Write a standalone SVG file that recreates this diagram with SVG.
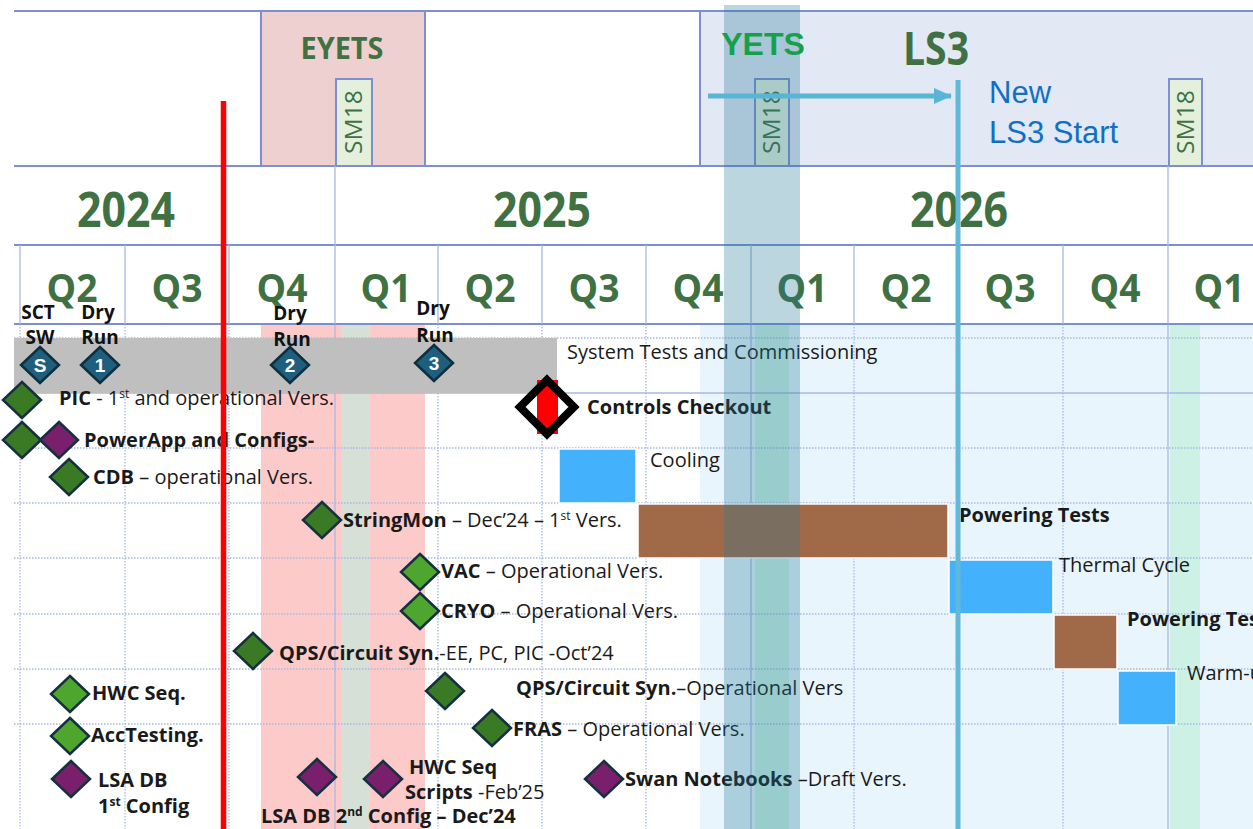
<svg xmlns="http://www.w3.org/2000/svg" width="1253" height="829" viewBox="0 0 1253 829">
  <defs>
    <style>
      .hdr { font-family: "Open Sans", "Liberation Sans", sans-serif; font-weight: 700; fill: #3f7142; text-anchor: middle; }
      .yr { font-size: 48px; }
      .qt { font-size: 40px; }
      .sm { font-family: "Open Sans", "Liberation Sans", sans-serif; font-size: 24px; fill: #3f7142; text-anchor: middle; }
      .lbl { font-family: "Open Sans", "Liberation Sans", sans-serif; font-size: 20px; fill: #1a1a1a; }
      .b { font-weight: 700; }
      .tag { font-family: "Open Sans", "Liberation Sans", sans-serif; font-size: 19px; font-weight: 700; fill: #111; text-anchor: middle; }
      .num { font-family: "Liberation Sans", sans-serif; font-size: 19px; font-weight: 700; fill: #fff; text-anchor: middle; }
      .sup { font-size: 12px; }
      .solid { stroke: #7b8fd2; stroke-width: 2; fill: none; }
      .thin { stroke: #a9b8e2; stroke-width: 1.3; fill: none; }
      .dot { stroke: #a9b8e2; stroke-width: 1.3; stroke-dasharray: 1.5 1.5; fill: none; }
      .dm { stroke: #15303e; stroke-width: 2.5; }
      .dkg { fill: #3a7a24; }
      .ltg { fill: #4fa62f; }
      .pur { fill: #7a1f6c; }
      .stp { fill: #1e5f80; stroke: #0f2f3e; stroke-width: 2.5; }
      .bluebar { fill: #44b1fd; stroke: #fff; stroke-width: 1.5; }
      .brownbar { fill: #a06a48; stroke: #fff; stroke-width: 1.5; }
      .note { font-family: "Liberation Sans", Arial, sans-serif; font-size: 31px; fill: #1170c4; }
    </style>
    <path id="dm" d="M0,-18 L19,0 L0,18 L-19,0 Z"/>
    <marker id="ah" viewBox="0 0 18 16" refX="17" refY="8" markerWidth="18" markerHeight="16" markerUnits="userSpaceOnUse" orient="auto">
      <path d="M0,0 L18,8 L0,16 Z" fill="#5ab4d6"/>
    </marker>
  </defs>

  <rect x="0" y="0" width="1253" height="829" fill="#ffffff"/>

  <!-- period boxes in the top band -->
  <g id="eyets-box">
    <rect x="261" y="11" width="164" height="155" fill="#efd0d1" stroke="#7b8fd2" stroke-width="2"/>
  </g>
  <g id="ls3-box">
    <rect x="700" y="11" width="560" height="155" fill="#e2e8f4" stroke="#7b8fd2" stroke-width="2"/>
  </g>
  <g id="sm18-a">
    <rect x="336" y="79" width="36" height="87" fill="#e5f0dc" stroke="#7b8fd2" stroke-width="2"/>
    <text class="sm" transform="translate(362,122) rotate(-90)" textLength="64" lengthAdjust="spacingAndGlyphs">SM18</text>
  </g>
  <g id="sm18-b">
    <rect x="755" y="79" width="34" height="87" fill="#e5f0dc" stroke="#7b8fd2" stroke-width="2"/>
    <text class="sm" transform="translate(780,122) rotate(-90)" textLength="64" lengthAdjust="spacingAndGlyphs">SM18</text>
  </g>
  <g id="sm18-c">
    <rect x="1169" y="79" width="33" height="87" fill="#e5f0dc" stroke="#7b8fd2" stroke-width="2"/>
    <text class="sm" transform="translate(1194,122) rotate(-90)" textLength="64" lengthAdjust="spacingAndGlyphs">SM18</text>
  </g>

  <!-- shaded periods behind the schedule grid -->
  <rect x="261" y="324" width="164" height="505" fill="#fdcaca"/>
  <rect x="341" y="324" width="29" height="505" fill="#d6e0d6"/>
  <rect x="700" y="324" width="553" height="505" fill="#e9f5fd"/>
  <rect x="755" y="324" width="34" height="505" fill="#cdf1e4"/>
  <rect x="1170" y="324" width="30" height="505" fill="#cdf2e5"/>

  <!-- schedule grid -->
  <g id="grid">
    <path class="dot" d="M14,338H1253 M14,448H1253 M14,503H1253 M14,558H1253 M14,614H1253 M14,669H1253 M14,724H1253"/>
    <path class="thin" d="M14,393H1253"/>
    <path class="dot" d="M20,324V829 M125,324V829 M229,324V829 M438,324V829 M542,324V829 M646,324V829 M854,324V829 M958,324V829 M1063,324V829"/>
    <path class="thin" d="M335,324V829 M751,324V829 M1168,324V829"/>
  </g>

  <!-- calendar header -->
  <g id="header">
    <path class="solid" d="M14,11H1253 M14,166H1253 M14,245H1253 M14,324H1253"/>
    <path class="thin" d="M335,166V245 M1168,166V245"/>
    <path class="thin" d="M20,245V324 M125,245V324 M229,245V324 M335,245V324 M438,245V324 M542,245V324 M646,245V324 M751,245V324 M854,245V324 M958,245V324 M1063,245V324 M1168,245V324"/>
    <text class="hdr" x="342" y="59" font-size="31" textLength="83" lengthAdjust="spacingAndGlyphs">EYETS</text>
    <text class="hdr" x="936" y="65" font-size="46" textLength="66" lengthAdjust="spacingAndGlyphs">LS3</text>
    <text class="hdr yr" x="126" y="227" textLength="98" lengthAdjust="spacingAndGlyphs">2024</text>
    <text class="hdr yr" x="542" y="227" textLength="98" lengthAdjust="spacingAndGlyphs">2025</text>
    <text class="hdr yr" x="959" y="227" textLength="98" lengthAdjust="spacingAndGlyphs">2026</text>
    <g class="hdr qt">
      <text x="72" y="302" textLength="51" lengthAdjust="spacingAndGlyphs">Q2</text>
      <text x="177" y="302" textLength="51" lengthAdjust="spacingAndGlyphs">Q3</text>
      <text x="282" y="302" textLength="51" lengthAdjust="spacingAndGlyphs">Q4</text>
      <text x="386" y="302" textLength="51" lengthAdjust="spacingAndGlyphs">Q1</text>
      <text x="490" y="302" textLength="51" lengthAdjust="spacingAndGlyphs">Q2</text>
      <text x="594" y="302" textLength="51" lengthAdjust="spacingAndGlyphs">Q3</text>
      <text x="698" y="302" textLength="51" lengthAdjust="spacingAndGlyphs">Q4</text>
      <text x="802" y="302" textLength="51" lengthAdjust="spacingAndGlyphs">Q1</text>
      <text x="906" y="302" textLength="51" lengthAdjust="spacingAndGlyphs">Q2</text>
      <text x="1010" y="302" textLength="51" lengthAdjust="spacingAndGlyphs">Q3</text>
      <text x="1115" y="302" textLength="51" lengthAdjust="spacingAndGlyphs">Q4</text>
      <text x="1219" y="302" textLength="51" lengthAdjust="spacingAndGlyphs">Q1</text>
    </g>
  </g>

  <!-- system tests bar with run milestones -->
  <g id="system-tests">
    <rect x="14" y="338" width="543" height="55" fill="#bfbfbf"/>
    <text class="lbl" x="567" y="359">System Tests and Commissioning</text>
  </g>
  <g id="sct-sw">
    <text class="tag" x="38" y="319">SCT</text>
    <text class="tag" x="40" y="344">SW</text>
    <use href="#dm" class="stp" x="40" y="365"/>
    <text class="num" x="40" y="372">S</text>
  </g>
  <g id="dry-run-1">
    <text class="tag" x="98" y="319">Dry</text>
    <text class="tag" x="100" y="344">Run</text>
    <use href="#dm" class="stp" x="100" y="365"/>
    <text class="num" x="100" y="372">1</text>
  </g>
  <g id="dry-run-2">
    <text class="tag" x="290" y="320">Dry</text>
    <text class="tag" x="292" y="346">Run</text>
    <use href="#dm" class="stp" x="290" y="365"/>
    <text class="num" x="290" y="372">2</text>
  </g>
  <g id="dry-run-3">
    <text class="tag" x="433" y="315">Dry</text>
    <text class="tag" x="435" y="342">Run</text>
    <use href="#dm" class="stp" x="434" y="363"/>
    <text class="num" x="434" y="370">3</text>
  </g>

  <!-- software milestones -->
  <g id="pic">
    <use href="#dm" class="dm dkg" x="22" y="400"/>
    <text class="lbl" x="59" y="405"><tspan class="b">PIC</tspan> - 1<tspan class="sup" dy="-7">st</tspan><tspan dy="7"> and operational Vers.</tspan></text>
  </g>
  <g id="powerapp">
    <use href="#dm" class="dm dkg" x="22" y="440"/>
    <use href="#dm" class="dm pur" x="59" y="440"/>
    <text class="lbl b" x="84" y="447">PowerApp and Configs-</text>
  </g>
  <g id="cdb">
    <use href="#dm" class="dm dkg" x="69" y="477"/>
    <text class="lbl" x="93" y="484"><tspan class="b">CDB</tspan> – operational Vers.</text>
  </g>
  <g id="controls-checkout">
    <rect x="537" y="380" width="21" height="54" fill="#ff0000"/>
    <path d="M547,380 L574,407 L547,434 L520,407 Z" fill="none" stroke="#000" stroke-width="8"/>
    <text class="lbl b" x="587" y="414">Controls Checkout</text>
  </g>
  <g id="stringmon">
    <use href="#dm" class="dm dkg" x="322" y="520"/>
    <text class="lbl" x="343" y="527"><tspan class="b">StringMon</tspan> – Dec’24 – 1<tspan class="sup" dy="-7">st</tspan><tspan dy="7"> Vers.</tspan></text>
  </g>
  <g id="vac">
    <use href="#dm" class="dm ltg" x="420" y="572"/>
    <text class="lbl" x="441" y="578"><tspan class="b">VAC</tspan> – Operational Vers.</text>
  </g>
  <g id="cryo">
    <use href="#dm" class="dm ltg" x="420" y="611"/>
    <text class="lbl" x="441" y="618"><tspan class="b">CRYO</tspan> – Operational Vers.</text>
  </g>
  <g id="qps-oct24">
    <use href="#dm" class="dm dkg" x="253" y="651"/>
    <text class="lbl" x="279" y="660"><tspan class="b">QPS/Circuit Syn.</tspan>-EE, PC, PIC -Oct’24</text>
  </g>
  <g id="qps-operational">
    <use href="#dm" class="dm dkg" x="445" y="691"/>
    <text class="lbl" x="516" y="695"><tspan class="b">QPS/Circuit Syn.</tspan>–Operational Vers</text>
  </g>
  <g id="fras">
    <use href="#dm" class="dm dkg" x="492" y="728"/>
    <text class="lbl" x="513" y="736"><tspan class="b">FRAS</tspan> – Operational Vers.</text>
  </g>
  <g id="hwc-seq">
    <use href="#dm" class="dm ltg" x="70" y="694"/>
    <text class="lbl b" x="92" y="700">HWC Seq.</text>
  </g>
  <g id="acctesting">
    <use href="#dm" class="dm ltg" x="70" y="736"/>
    <text class="lbl b" x="91" y="742">AccTesting.</text>
  </g>
  <g id="lsa-db-1">
    <use href="#dm" class="dm pur" x="71" y="779"/>
    <text class="lbl b" x="98" y="787">LSA DB</text>
    <text class="lbl b" x="98" y="813">1<tspan class="sup" dy="-7">st</tspan><tspan dy="7"> Config</tspan></text>
  </g>
  <g id="lsa-db-2">
    <use href="#dm" class="dm pur" x="317" y="777"/>
    <text class="lbl b" x="261" y="823">LSA DB 2<tspan class="sup" dy="-7">nd</tspan><tspan dy="7"> Config – Dec’24</tspan></text>
  </g>
  <g id="hwc-scripts">
    <use href="#dm" class="dm pur" x="383" y="779"/>
    <text class="lbl b" x="409" y="774">HWC Seq</text>
    <text class="lbl" x="405" y="799"><tspan class="b">Scripts</tspan> -Feb’25</text>
  </g>
  <g id="swan">
    <use href="#dm" class="dm pur" x="604" y="779"/>
    <text class="lbl" x="625" y="786"><tspan class="b">Swan Notebooks</tspan> –Draft Vers.</text>
  </g>

  <!-- commissioning phases -->
  <g id="cooling">
    <rect class="bluebar" x="559" y="449" width="77" height="54"/>
    <text class="lbl" x="650" y="467">Cooling</text>
  </g>
  <g id="powering-tests-1">
    <rect class="brownbar" x="638" y="504" width="310" height="54"/>
    <text class="lbl b" x="959" y="522">Powering Tests</text>
  </g>
  <g id="thermal-cycle">
    <rect class="bluebar" x="949" y="560" width="104" height="54"/>
    <text class="lbl" x="1059" y="572">Thermal Cycle</text>
  </g>
  <g id="powering-tests-2">
    <rect class="brownbar" x="1054" y="615" width="63" height="54"/>
    <text class="lbl b" x="1127" y="626">Powering Tests</text>
  </g>
  <g id="warm-up">
    <rect class="bluebar" x="1118" y="671" width="58" height="54"/>
    <text class="lbl" x="1187" y="680">Warm-up</text>
  </g>

  <!-- YETS shutdown band -->
  <g id="yets">
    <rect x="724" y="5" width="76" height="824" fill="#217894" fill-opacity="0.3"/>
    <text x="763" y="55" font-family="Liberation Sans, Arial, sans-serif" font-size="32" font-weight="700" fill="#17a04a" text-anchor="middle">YETS</text>
  </g>

  <!-- today marker -->
  <g id="today">
    <line x1="223.5" y1="101" x2="223.5" y2="829" stroke="#ff0000" stroke-width="5.5"/>
  </g>

  <!-- new LS3 start -->
  <g id="ls3-start">
    <line x1="958" y1="80" x2="958" y2="829" stroke="#62b8d8" stroke-width="5"/>
    <text class="note" x="989" y="103">New</text>
    <text class="note" x="989" y="143">LS3 Start</text>
  </g>

  <g id="connectors">
    <line x1="708" y1="96" x2="951" y2="96" stroke="#5ab4d6" stroke-width="5" marker-end="url(#ah)"/>
  </g>
</svg>
